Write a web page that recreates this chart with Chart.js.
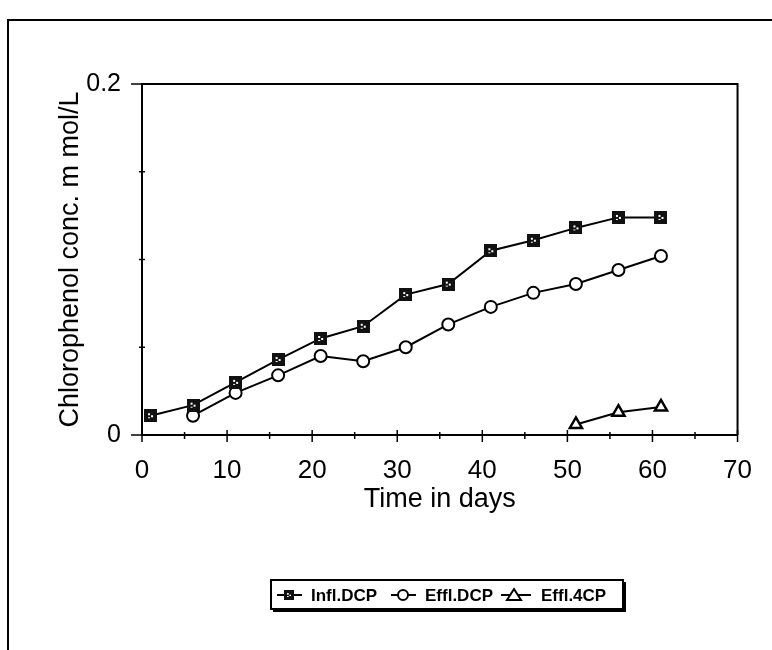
<!DOCTYPE html>
<html>
<head>
<meta charset="utf-8">
<title>Chlorophenol concentration over time</title>
<script src="https://cdn.jsdelivr.net/npm/chart.js@4"></script>
<style>
  html, body { margin: 0; padding: 0; background: #fff; }
  canvas { display: block; }
</style>
</head>
<body>
<canvas id="chart" width="772" height="650"></canvas>
<script>
// Sampling days and measured concentrations (m mol/L)
const inflDays = [1, 6, 11, 16, 21, 26, 31, 36, 41, 46, 51, 56, 61];
const inflDCP  = [0.011, 0.017, 0.030, 0.043, 0.055, 0.062, 0.080, 0.086, 0.105, 0.111, 0.118, 0.124, 0.124];

const efflDays = [6, 11, 16, 21, 26, 31, 36, 41, 46, 51, 56, 61];
const efflDCP  = [0.011, 0.024, 0.034, 0.045, 0.042, 0.050, 0.063, 0.073, 0.081, 0.086, 0.094, 0.102];

const eff4Days = [51, 56, 61];
const eff4CP   = [0.006, 0.013, 0.016];

const seriesNames = ['Infl.DCP', 'Effl.DCP', 'Effl.4CP'];
const xTitle = 'Time in days';
const yTitle = 'Chlorophenol conc. m mol/L';

const toPoints = (xs, ys) => xs.map((x, i) => ({ x: x, y: ys[i] }));

// Dark speckled square marker
function squareMarker() {
  const c = document.createElement('canvas');
  c.width = 13; c.height = 13;
  const g = c.getContext('2d');
  g.fillStyle = '#111';
  g.fillRect(0, 0, 13, 13);
  g.fillStyle = '#fff';
  g.fillRect(4, 4, 2, 2);
  g.fillRect(7, 6, 2, 2);
  g.fillRect(4, 8, 2, 1);
  return c;
}
const sqImg = squareMarker();

const FONT = "'Liberation Sans', Arial, sans-serif";

// Plot frame, outer figure border and crossing tick marks
const framePlugin = {
  id: 'frame',
  afterDraw(chart) {
    const { ctx, chartArea: a } = chart;
    const xs = chart.scales.x, ys = chart.scales.y;
    ctx.save();
    ctx.strokeStyle = '#000';
    ctx.lineWidth = 2;
    // figure border (top and left)
    ctx.beginPath();
    ctx.moveTo(8, 650); ctx.lineTo(8, 20); ctx.lineTo(772, 20);
    ctx.stroke();
    // plot frame top and right
    ctx.beginPath();
    ctx.moveTo(a.left, a.top); ctx.lineTo(a.right, a.top); ctx.lineTo(a.right, a.bottom);
    ctx.stroke();
    // x ticks crossing the axis
    ctx.lineWidth = 1.5;
    xs.ticks.forEach(t => {
      const px = xs.getPixelForValue(t.value);
      const major = Math.round(t.value) % 10 === 0;
      ctx.beginPath();
      ctx.moveTo(px, a.bottom - (major ? 5 : 3));
      ctx.lineTo(px, a.bottom + (major ? 7 : 4));
      ctx.stroke();
    });
    // y ticks
    ys.ticks.forEach(t => {
      const py = ys.getPixelForValue(t.value);
      const major = t.label !== '';
      ctx.beginPath();
      ctx.moveTo(a.left - (major ? 11 : 3), py);
      ctx.lineTo(a.left + (major ? 7 : 3), py);
      ctx.stroke();
    });
    ctx.restore();
  }
};

// Boxed legend below the plot: line-marker-line sample then name
const legendPlugin = {
  id: 'boxLegend',
  afterDraw(chart) {
    const ctx = chart.ctx;
    const box = { l: 271, t: 580, r: 623, b: 609 };
    const cy = 595;
    ctx.save();
    // shadow
    ctx.fillStyle = '#000';
    ctx.fillRect(box.l + 2, box.b, box.r - box.l, 3);
    ctx.fillRect(box.r, box.t + 2, 3, box.b - box.t + 1);
    ctx.fillStyle = '#fff';
    ctx.fillRect(box.l, box.t, box.r - box.l, box.b - box.t);
    ctx.strokeStyle = '#000';
    ctx.lineWidth = 2;
    ctx.strokeRect(box.l, box.t, box.r - box.l, box.b - box.t);

    const items = [
      { x0: 277, xm: 289, x1: 302, tx: 311 },
      { x0: 391, xm: 403, x1: 416, tx: 425 },
      { x0: 501, xm: 514, x1: 531, tx: 541 }
    ];
    ctx.font = 'bold 17px ' + FONT;
    ctx.textBaseline = 'middle';
    ctx.textAlign = 'left';
    chart.data.datasets.forEach((ds, i) => {
      const it = items[i];
      ctx.strokeStyle = '#000';
      ctx.lineWidth = 2;
      ctx.beginPath();
      ctx.moveTo(it.x0, cy); ctx.lineTo(it.x1, cy);
      ctx.stroke();
      if (i === 0) {
        ctx.drawImage(sqImg, it.xm - 5, cy - 5, 10, 10);
      } else if (i === 1) {
        ctx.beginPath();
        ctx.arc(it.xm, cy, 5, 0, Math.PI * 2);
        ctx.fillStyle = '#fff'; ctx.fill();
        ctx.lineWidth = 2; ctx.stroke();
      } else {
        ctx.beginPath();
        ctx.moveTo(it.xm, cy - 6); ctx.lineTo(it.xm + 7, cy + 5); ctx.lineTo(it.xm - 7, cy + 5);
        ctx.closePath();
        ctx.fillStyle = '#fff'; ctx.fill();
        ctx.lineWidth = 2; ctx.stroke();
      }
      ctx.fillStyle = '#000';
      ctx.fillText(ds.label, it.tx, cy + 1);
    });
    ctx.restore();
  }
};

const lineStyle = {
  showLine: true,
  borderColor: '#000',
  borderWidth: 2,
  tension: 0,
  fill: false
};

new Chart(document.getElementById('chart'), {
  type: 'scatter',
  data: {
    datasets: [
      Object.assign({
        label: seriesNames[0],
        data: toPoints(inflDays, inflDCP),
        pointStyle: sqImg,
        pointRadius: 7
      }, lineStyle),
      Object.assign({
        label: seriesNames[1],
        data: toPoints(efflDays, efflDCP),
        pointStyle: 'circle',
        pointRadius: 6,
        pointBorderWidth: 2,
        pointBackgroundColor: '#fff',
        pointBorderColor: '#000'
      }, lineStyle),
      Object.assign({
        label: seriesNames[2],
        data: toPoints(eff4Days, eff4CP),
        pointStyle: 'triangle',
        pointRadius: 7,
        pointBorderWidth: 2.5,
        pointBackgroundColor: '#fff',
        pointBorderColor: '#000'
      }, lineStyle)
    ]
  },
  options: {
    responsive: false,
    animation: false,
    layout: { padding: { top: 84, right: 29, left: 0, bottom: 0 } },
    plugins: {
      legend: { display: false },
      tooltip: { enabled: false }
    },
    scales: {
      x: {
        type: 'linear',
        min: 0, max: 70,
        afterFit: s => { s.height = 215; },
        border: { display: true, color: '#000', width: 2 },
        grid: { display: true, drawOnChartArea: false, drawTicks: false },
        ticks: {
          stepSize: 5,
          padding: 20,
          color: '#000',
          font: { family: FONT, size: 26 },
          maxRotation: 0,
          autoSkip: false,
          callback: v => (Math.round(v) % 10 === 0 ? String(v) : '')
        },
        title: {
          display: true,
          text: xTitle,
          color: '#000',
          font: { family: FONT, size: 27 },
          padding: { top: 0, bottom: 134 }
        }
      },
      y: {
        type: 'linear',
        min: 0, max: 0.2,
        afterFit: s => { s.width = 142; },
        border: { display: true, color: '#000', width: 2 },
        grid: { display: true, drawOnChartArea: false, drawTicks: false },
        ticks: {
          stepSize: 0.05,
          padding: 21,
          color: '#000',
          font: { family: FONT, size: 25 },
          autoSkip: false,
          callback: v => (Math.abs(v) < 1e-9 ? '0' : (Math.abs(v - 0.2) < 1e-9 ? '0.2' : ''))
        },
        title: {
          display: true,
          text: yTitle,
          color: '#000',
          font: { family: FONT, size: 27 },
          padding: { top: 54, bottom: 0 }
        }
      }
    }
  },
  plugins: [framePlugin, legendPlugin]
});
</script>
</body>
</html>
